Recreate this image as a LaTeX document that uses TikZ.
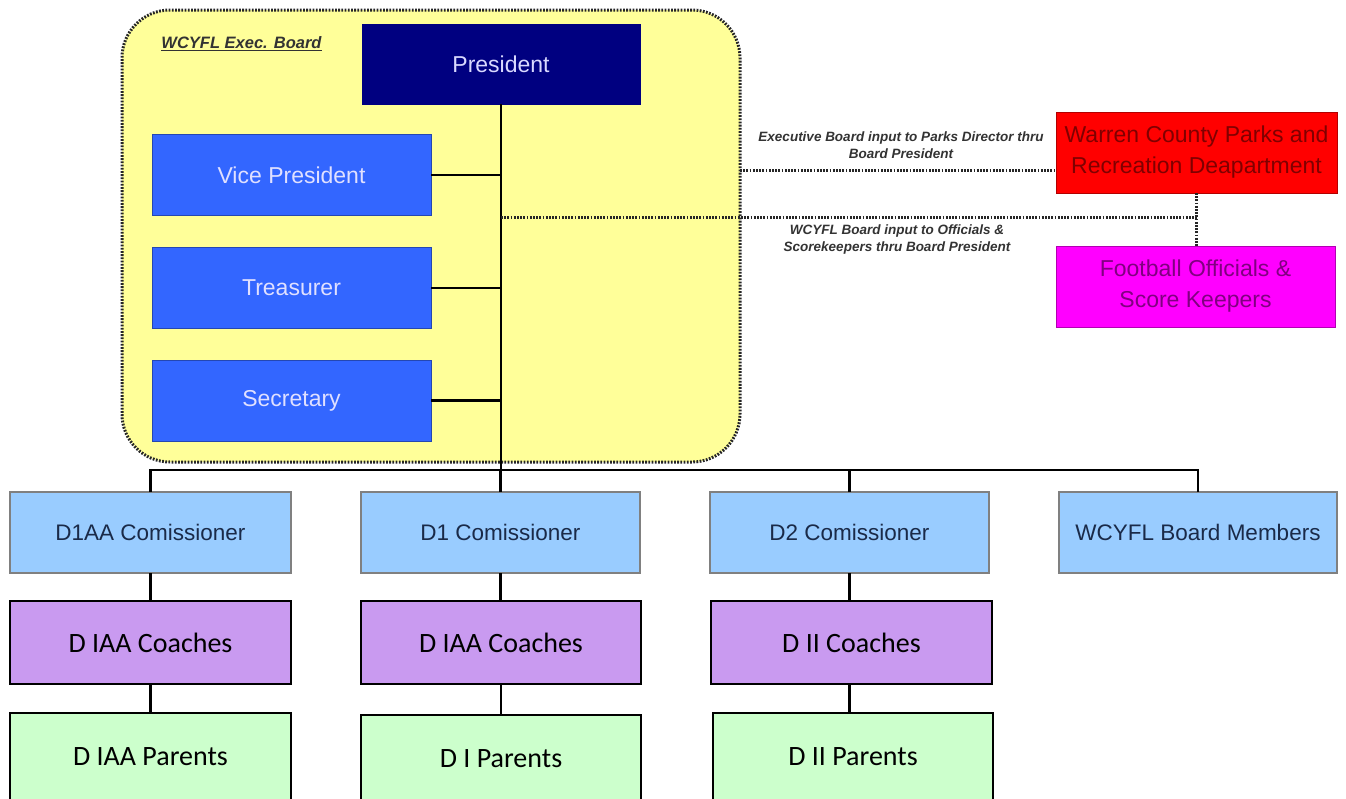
\documentclass[tikz,border=0pt]{standalone}
\usepackage{fontspec}
\setmainfont{Liberation Sans}
\newfontfamily\carlito{Carlito}
\definecolor{yel}{HTML}{FFFF99}
\definecolor{navy}{HTML}{000080}
\definecolor{bluebox}{HTML}{3366FF}
\definecolor{lightblue}{HTML}{99CCFF}
\definecolor{lav}{HTML}{C99AF0}
\definecolor{mint}{HTML}{CCFFCC}
\definecolor{dred}{HTML}{800000}
\definecolor{dpur}{HTML}{800080}
\definecolor{mag}{HTML}{FF00FF}
\definecolor{rd}{HTML}{FF0000}
\definecolor{commtext}{HTML}{1A2A48}
\begin{document}
\begin{tikzpicture}[x=1pt,y=-1pt,
  every node/.style={inner sep=0pt, outer sep=0pt, align=center},
  box/.style={draw, rectangle, minimum width=#1, minimum height=81pt},
  box/.default=280pt,
  exec/.style={box=279pt, fill=bluebox, draw=bluebox!70!black, line width=0.8pt, text=white!88!blue, font=\fontsize{23}{27}\selectfont},
  comm/.style={box=#1, fill=lightblue, draw=gray, line width=1.2pt, text=commtext, font=\fontsize{22.5}{26}\selectfont},
  coach/.style={box=#1, minimum height=83pt, fill=lav, draw=black, line width=1.6pt, font=\carlito\fontsize{28}{32}\selectfont},
  parent/.style={box=#1, minimum height=88pt, fill=mint, draw=black, line width=1.6pt, font=\carlito\fontsize{28}{32}\selectfont},
  solidline/.style={draw=black, line width=2.8pt},
  dotline/.style={draw=black!85, line width=3pt, dash pattern=on 1.8pt off 1.4pt},
  note/.style={font=\bfseries\itshape\fontsize{13.5}{17}\selectfont, text=black!80}
]
\useasboundingbox (0,0) rectangle (1346,798);
\clip (0,0) rectangle (1346,798);
\fill[white] (0,0) rectangle (1346,798);

% board
\node[draw=black!85, line width=3pt, dash pattern=on 1.8pt off 1.4pt, fill=yel, rounded corners=48pt,
      minimum width=618pt, minimum height=452pt] (board) at (431,236) {};
\node[font=\bfseries\itshape\fontsize{16.5}{19}\selectfont, text=black!80] (boardlabel) at (241.5,44) {\underline{WCYFL Exec. Board}};

% exec nodes
\node[box=278pt, minimum height=80pt, fill=navy, draw=navy, text=blue!15!white, font=\fontsize{23}{27}\selectfont] (pres) at (501,64) {President};
\node[exec] (vp) at (291.5,175) {Vice President};
\node[exec] (tr) at (291.5,288) {Treasurer};
\node[exec] (sec) at (291.5,400.5) {Secretary};

% right side
\node[box=281pt, fill=rd, draw=rd!70!black, line width=1pt, text=dred, font=\fontsize{23}{31}\selectfont] (wc) at (1196.5,152.5) {Warren County Parks and\\Recreation Deapartment};
\node[box=279pt, fill=mag, draw=mag!70!black, line width=1pt, text=dpur, font=\fontsize{23}{31}\selectfont] (fo) at (1195.5,286.5) {Football Officials \&\\Score Keepers};

% commissioners
\node[comm=281pt] (c1aa) at (150.5,532.5) {D1AA Comissioner};
\node[comm=279pt] (c1) at (500.5,532.5) {D1 Comissioner};
\node[comm=279pt] (c2) at (849.5,532.5) {D2 Comissioner};
\node[comm=278pt] (bm) at (1198,532.5) {WCYFL Board Members};

% coaches
\node[coach=281pt] (k1) at (150.5,642.5) {D IAA Coaches};
\node[coach=280pt] (k2) at (501,642.5) {D IAA Coaches};
\node[coach=281pt] (k3) at (851.5,642.5) {D II Coaches};

% parents
\node[parent=281pt] (p1) at (150.5,757) {D IAA Parents};
\node[parent=280pt] (p2) at (501,759) {D I Parents};
\node[parent=280pt] (p3) at (853,757) {D II Parents};

% notes
\node[note] (n1) at (901,145) {Executive Board input to Parks Director thru\\Board President};
\node[note] (n2) at (897,240) {WCYFL Board input to Officials \&\\Scorekeepers thru Board President};

\coordinate (bar) at (0,470);
\coordinate (ya) at (0,170);
\coordinate (yb) at (0,217);

% solid connectors
\draw[solidline] (pres.south) -- (pres.south |- bar);
\draw[solidline] (vp.east) -- (vp.east -| pres.south);
\draw[solidline] (tr.east) -- (tr.east -| pres.south);
\draw[solidline] (sec.east) -- (sec.east -| pres.south);
\draw[solidline] (c1aa.north) -- (c1aa.north |- bar) -- (bm.north |- bar) -- (bm.north);
\draw[solidline] (c1.north) -- (c1.north |- bar);
\draw[solidline] (c2.north) -- (c2.north |- bar);
\draw[solidline] (c1aa.south) -- (c1aa.south |- k1.north);
\draw[solidline] (k1.south) -- (k1.south |- p1.north);
\draw[solidline] (c1.south) -- (c1.south |- k2.north);
\draw[solidline] (k2.south) -- (k2.south |- p2.north);
\draw[solidline] (c2.south) -- (c2.south |- k3.north);
\draw[solidline] (k3.south -| c2.south) -- (c2.south |- p3.north);

% dotted connectors
\draw[dotline] (board.east |- ya) -- (wc.west |- ya);
\draw[dotline] (pres.south |- yb) -- (wc.south |- yb);
\draw[dotline] (wc.south) -- (wc.south |- fo.north);
\end{tikzpicture}
\end{document}
